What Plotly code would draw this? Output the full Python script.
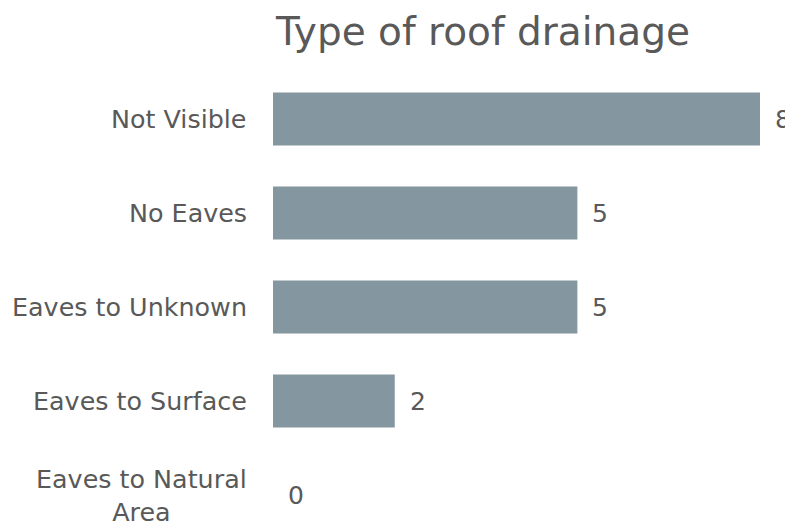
import plotly.graph_objects as go

categories = ["Not Visible", "No Eaves", "Eaves to Unknown", "Eaves to Surface", "Eaves to Natural<br>Area"]
values = [8, 5, 5, 2, 0]
title_text = "Type of roof drainage"

FONT = "DejaVu Sans"
TXT = "#595959"
BAR = "#8497A0"
W, H = 785, 520  # page body has an 8px margin

fig = go.Figure()
fig.add_trace(go.Bar(
    x=values, y=categories, orientation="h",
    marker=dict(color=BAR, line=dict(width=0)),
    hoverinfo="x+y",
))

annotations = []
for c, v in zip(categories, values):
    annotations.append(dict(x=v, y=c, xref="x", yref="y", text=str(v), showarrow=False,
                            xanchor="left", xshift=13, font=dict(family=FONT, size=25, color=TXT)))
    annotations.append(dict(x=0, y=c, xref="x", yref="y", text=c, showarrow=False, align="center",
                            xanchor="right", xshift=-24, font=dict(family=FONT, size=25.4, color=TXT)))

fig.update_layout(
    width=W, height=H,
    margin=dict(l=265, r=33, t=64, b=8),
    paper_bgcolor="white", plot_bgcolor="white",
    title=dict(text=title_text, x=475/W, xanchor="center", y=1 - 37/H, yanchor="bottom",
               font=dict(family=FONT, size=39, color=TXT)),
    bargap=0.436,
    showlegend=False,
    xaxis=dict(range=[0, 8], showgrid=False, zeroline=False, showticklabels=False, showline=False),
    yaxis=dict(type="category", categoryorder="array", categoryarray=categories[::-1],
               range=[-0.266, 4.5], showgrid=False, zeroline=False, showticklabels=False, showline=False),
    annotations=annotations,
)

fig.write_html("out.html")
